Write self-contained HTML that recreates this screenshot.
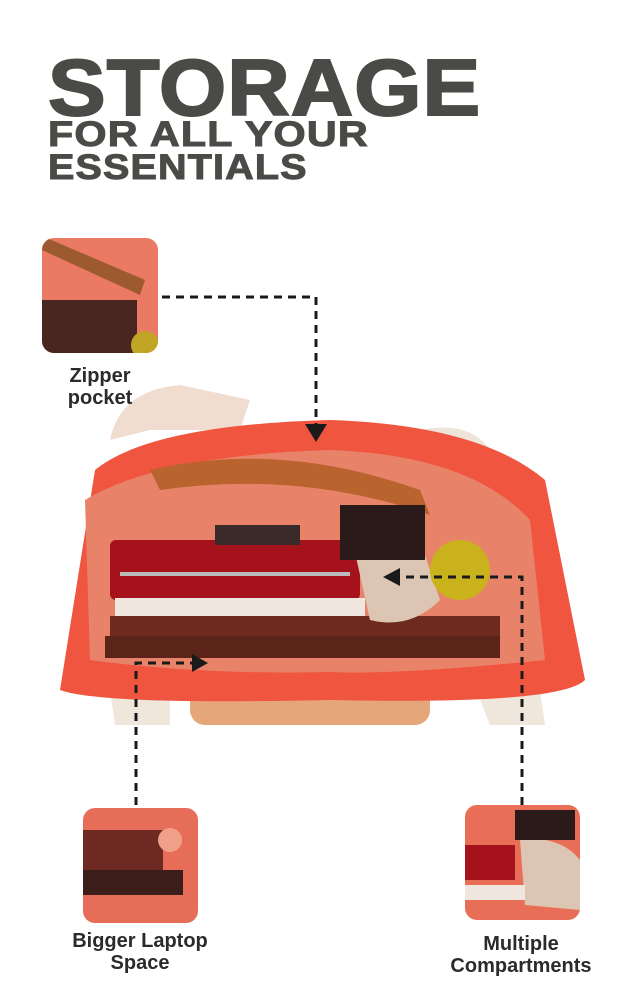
<!DOCTYPE html>
<html><head><meta charset="utf-8"><style>
html,body{margin:0;padding:0;background:#fff;}
body{width:640px;height:1000px;position:relative;overflow:hidden;font-family:"Liberation Sans",Arial,sans-serif;}
.t{position:absolute;left:48px;color:#4a4a47;font-weight:900;letter-spacing:1px;line-height:1;}
.lab{position:absolute;color:#2b2b2b;font-weight:bold;font-size:20px;text-align:center;line-height:22px;}
</style></head><body>
<div class="t" style="top:48px;font-size:80px;transform:scaleX(1.08);transform-origin:left;-webkit-text-stroke:2px #4a4a47;">STORAGE</div>
<div class="t" style="top:117px;font-size:35px;transform:scaleX(1.18);transform-origin:left;-webkit-text-stroke:1px #4a4a47;">FOR ALL YOUR</div>
<div class="t" style="top:150px;font-size:35px;transform:scaleX(1.13);transform-origin:left;-webkit-text-stroke:1px #4a4a47;">ESSENTIALS</div>

<svg width="640" height="1000" style="position:absolute;left:0;top:0">
<defs>
<clipPath id="c1"><rect x="42" y="238" width="116" height="115" rx="12"/></clipPath>
<clipPath id="c2"><rect x="83" y="808" width="115" height="115" rx="12"/></clipPath>
<clipPath id="c3"><rect x="465" y="805" width="115" height="115" rx="12"/></clipPath>
</defs>
<path d="M110 440 Q120 390 180 385 L250 400 L240 430 L150 430 Z" fill="#f1ddd0"/>
<path d="M420 430 Q470 420 490 450 L500 480 L470 480 Z" fill="#efe4da"/>
<path d="M110 690 L170 690 L170 725 L115 725 Z" fill="#efe6dc"/>
<path d="M480 700 L540 690 L545 725 L490 725 Z" fill="#efe6dc"/>
<rect x="190" y="680" width="240" height="45" rx="15" fill="#e5a77a"/>
<path d="M95 470 Q150 425 330 420 Q480 425 545 480 L585 680 Q560 705 330 700 Q100 705 60 690 Z" fill="#f0553f"/>
<path d="M85 500 Q160 455 330 450 Q470 455 530 520 L545 660 Q400 675 330 672 Q200 675 90 660 Z" fill="#e8836a"/>
<path d="M150 470 Q280 440 420 490 L430 515 Q300 470 160 490 Z" fill="#b9632f"/>
<rect x="110" y="540" width="250" height="60" rx="6" fill="#a5121c"/>
<rect x="120" y="572" width="230" height="4" fill="#bbb"/>
<rect x="115" y="598" width="250" height="20" fill="#efe7df"/>
<rect x="110" y="616" width="390" height="20" fill="#6e2a1c"/>
<rect x="105" y="636" width="395" height="22" fill="#5a2418"/>
<path d="M350 530 Q380 520 420 540 L440 600 Q410 630 370 620 Z" fill="#dcc6b3"/>
<circle cx="460" cy="570" r="30" fill="#c9b21c"/>
<rect x="340" y="505" width="85" height="55" fill="#2a1b1a"/>
<rect x="215" y="525" width="85" height="20" fill="#3a2a2a"/>
<g clip-path="url(#c1)"><rect x="42" y="238" width="116" height="115" fill="#ea7a63"/>
<path d="M42 250 L140 295 L145 280 L42 236Z" fill="#9c5a2e"/><rect x="42" y="300" width="95" height="53" fill="#4a2620"/><circle cx="145" cy="345" r="14" fill="#c0a624"/></g>
<g clip-path="url(#c2)"><rect x="83" y="808" width="115" height="115" fill="#e66e58"/>
<rect x="83" y="830" width="80" height="65" fill="#6e2a22"/><rect x="83" y="870" width="100" height="25" fill="#3b1e1a"/><circle cx="170" cy="840" r="12" fill="#f0a088"/></g>
<g clip-path="url(#c3)"><rect x="465" y="805" width="115" height="115" fill="#e86e58"/>
<rect x="465" y="845" width="50" height="35" fill="#a5121c"/><path d="M520 840 Q560 835 580 860 L580 910 L525 905Z" fill="#dcc6b3"/><rect x="515" y="810" width="60" height="30" fill="#2a1b1a"/><rect x="465" y="885" width="60" height="15" fill="#efe7df"/></g>
<g stroke="#1a1a1a" stroke-width="3" stroke-dasharray="8 6" fill="none">
<path d="M162 297 L316 297 L316 430"/>
<path d="M136 805 L136 663 L195 663"/>
<path d="M522 805 L522 577 L398 577"/>
</g>
<g fill="#1a1a1a">
<path d="M305 424 L327 424 L316 442Z"/>
<path d="M192 654 L208 663 L192 672Z"/>
<path d="M400 568 L383 577 L400 586Z"/>
</g>
</svg>

<div class="lab" style="left:40px;top:365px;width:120px;">Zipper<br>pocket</div>
<div class="lab" style="left:40px;top:930px;width:200px;">Bigger Laptop<br>Space</div>
<div class="lab" style="left:420px;top:933px;width:202px;">Multiple<br>Compartments</div>
</body></html>
